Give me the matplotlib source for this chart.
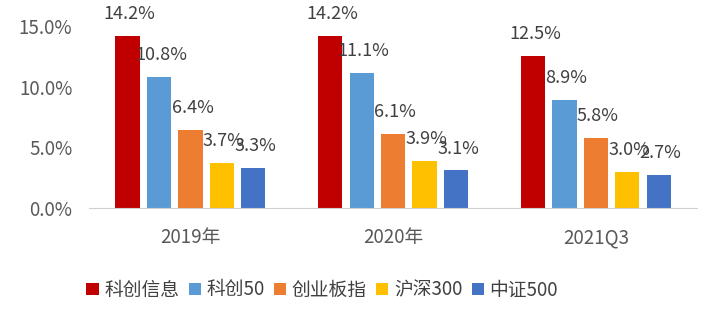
import matplotlib
matplotlib.use("Agg")
import matplotlib.pyplot as plt
import numpy as np

plt.rcParams['font.family'] = ['Noto Sans CJK SC', 'DejaVu Sans']

periods = ['2019年', '2020年', '2021Q3']
series = ['科创信息', '科创50', '创业板指', '沪深300', '中证500']
kcxx = [14.2, 14.2, 12.5]
kc50 = [10.8, 11.1, 8.9]
cybz = [6.4, 6.1, 5.8]
hs300 = [3.7, 3.9, 3.0]
zz500 = [3.3, 3.1, 2.7]
values = [kcxx, kc50, cybz, hs300, zz500]
colors = ['#C00000', '#5B9BD5', '#ED7D31', '#FFC000', '#4472C4']

fig = plt.figure(figsize=(7.24, 3.24), dpi=100)
ax = fig.add_axes([0.123, 0.358, 0.840, 0.562])

x = np.arange(len(periods))
step = 0.155
w = 0.12
for i, (name, vals, c) in enumerate(zip(series, values, colors)):
    pos = x + (i - 2) * step
    ax.bar(pos, vals, width=w, color=c, label=name, zorder=2)
    for p, v in zip(pos, vals):
        ax.text(p + 0.01, v + 1.8, '%.1f%%' % v, ha='center', va='center',
                fontsize=13, color='#404040', clip_on=False, zorder=3)

ax.set_xlim(-0.5, 2.5)
ax.set_ylim(0, 15)
ax.set_yticks([0, 5, 10, 15])
ax.set_yticklabels(['0.0%', '5.0%', '10.0%', '15.0%'])
ax.set_xticks(x)
ax.set_xticklabels(periods)
ax.tick_params(axis='both', length=0, labelsize=13.5, colors='#595959')
ax.tick_params(axis='y', pad=12)
ax.tick_params(axis='x', pad=14)
for s in ['top', 'right', 'left']:
    ax.spines[s].set_visible(False)
ax.spines['bottom'].set_color('#D0D0D0')

fig.legend(loc='center', bbox_to_anchor=(0.445, 0.105), ncol=5, frameon=False,
           handlelength=0.65, handleheight=0.65, handletextpad=0.3,
           columnspacing=0.5, prop={'size': 13.5}, labelcolor='#404040')

fig.savefig('out.png', dpi=100)
